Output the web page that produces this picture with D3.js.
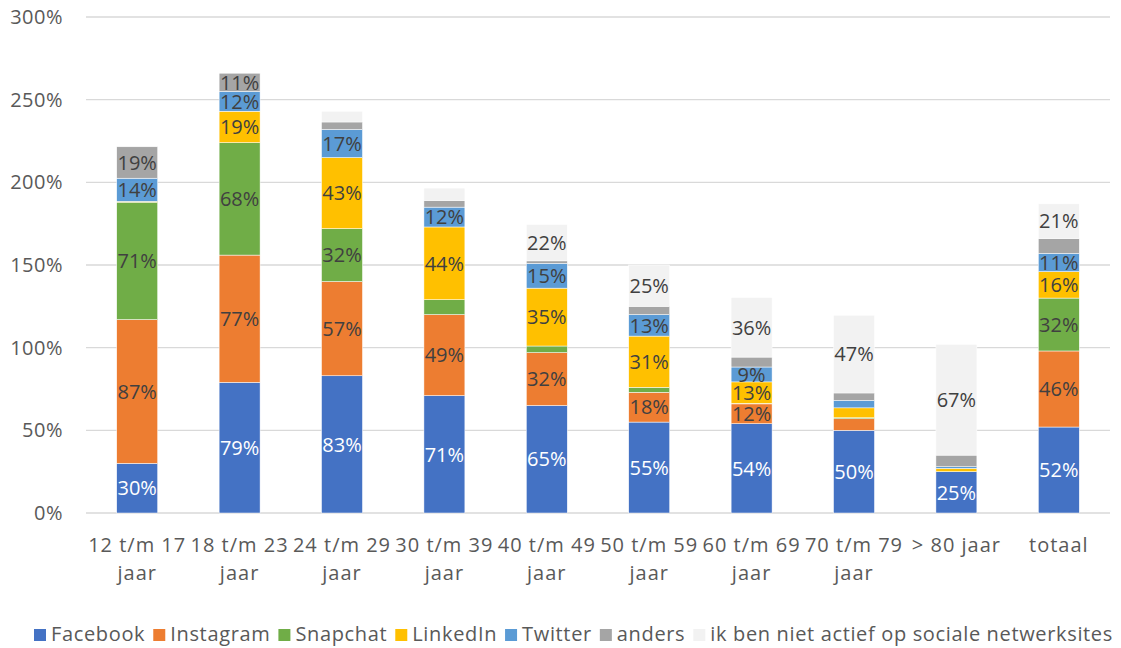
<!DOCTYPE html>
<html>
<head>
<meta charset="utf-8">
<script src="https://cdn.jsdelivr.net/npm/d3@7"></script>
<style>
  body { margin: 0; background: #fff; }
  text { font-family: "Open Sans", sans-serif; }
</style>
</head>
<body>
<script>
// categories and series, values in percent
const categories = ["12 t/m 17 jaar", "18 t/m 23 jaar", "24 t/m 29 jaar", "30 t/m 39 jaar", "40 t/m 49 jaar",
  "50 t/m 59 jaar", "60 t/m 69 jaar", "70 t/m 79 jaar", "> 80 jaar", "totaal"];
const seriesNames = ["Facebook", "Instagram", "Snapchat", "LinkedIn", "Twitter", "anders",
  "ik ben niet actief op sociale netwerksites"];
const facebook  = [30, 79, 83, 71, 65, 55, 54, 50, 25, 52];
const instagram = [87, 77, 57, 49, 32, 18, 12, 7, 0, 46];
const snapchat  = [71, 68, 32, 9, 4, 3, 0.3, 0.6, 0, 32];
const linkedin  = [0.5, 19, 43, 44, 35, 31, 13, 6, 2, 16];
const twitter   = [14, 12, 17, 12, 15, 13, 9, 4.5, 1, 11];
const anders    = [19, 11, 4.5, 4, 1.5, 5, 6, 4.5, 7, 9];
const nietActief = [0, 0, 6.5, 7.5, 22, 25, 36, 47, 67, 21];
// which segments carry a data label (1 = shown)
const labelShown = [
  [1, 1, 1, 1, 1, 1, 1, 1, 1, 1],
  [1, 1, 1, 1, 1, 1, 1, 0, 0, 1],
  [1, 1, 1, 0, 0, 0, 0, 0, 0, 1],
  [0, 1, 1, 1, 1, 1, 1, 0, 0, 1],
  [1, 1, 1, 1, 1, 1, 1, 0, 0, 1],
  [1, 1, 0, 0, 0, 0, 0, 0, 0, 0],
  [0, 0, 0, 0, 1, 1, 1, 1, 1, 1]
];
const yTicks = [0, 50, 100, 150, 200, 250, 300];

const colors = ["#4472C4", "#ED7D31", "#70AD47", "#FFC000", "#5B9BD5", "#A5A5A5", "#F2F2F2"];
const values = [facebook, instagram, snapchat, linkedin, twitter, anders, nietActief];

const width = 1121, height = 648;
const svg = d3.select("body").append("svg")
  .attr("width", width)
  .attr("height", height);

const x = d3.scaleBand()
  .domain(categories)
  .range([86, 1110])
  .paddingInner(0.6)
  .paddingOuter(0.3);

const y = d3.scaleLinear()
  .domain([0, 300])
  .range([513, 17]);

// gridlines
svg.append("g")
  .selectAll("line")
  .data(yTicks)
  .join("line")
    .attr("x1", 86)
    .attr("x2", 1110)
    .attr("y1", d => y(d))
    .attr("y2", d => y(d))
    .attr("stroke", "#D9D9D9")
    .attr("stroke-width", 1.3);

// y axis labels
svg.append("g")
  .selectAll("text")
  .data(yTicks)
  .join("text")
    .attr("x", 63)
    .attr("y", d => y(d))
    .attr("dy", "0.35em")
    .attr("text-anchor", "end")
    .attr("font-size", 20)
    .attr("letter-spacing", 0.5)
    .attr("fill", "#595959")
    .text(d => d + "%");

// stack the data
const rows = categories.map((c, i) => {
  const r = {cat: c};
  seriesNames.forEach((s, j) => r[s] = values[j][i]);
  return r;
});
const stacked = d3.stack().keys(seriesNames)(rows);

const layers = svg.append("g")
  .selectAll("g")
  .data(stacked)
  .join("g")
    .attr("fill", (d, i) => colors[i]);

layers.selectAll("rect")
  .data(d => d)
  .join("rect")
    .attr("x", d => x(d.data.cat))
    .attr("width", x.bandwidth())
    .attr("y", d => y(d[1]))
    .attr("height", d => y(d[0]) - y(d[1]))
    .attr("stroke", "#fff")
    .attr("stroke-width", 0.5);

// data labels
stacked.forEach((layer, si) => {
  svg.append("g")
    .selectAll("text")
    .data(layer.filter((d, i) => labelShown[si][i]))
    .join("text")
      .attr("x", d => x(d.data.cat) + x.bandwidth() / 2)
      .attr("y", d => y((d[0] + d[1]) / 2))
      .attr("dy", "0.36em")
      .attr("text-anchor", "middle")
      .attr("font-size", 20)
      .attr("fill", si === 0 ? "#fff" : "#404040")
      .text(d => Math.round(d[1] - d[0]) + "%");
});

// category labels, wrapped to the band step
const catG = svg.append("g");
categories.forEach(c => {
  const cx = x(c) + x.bandwidth() / 2;
  const t = catG.append("text")
    .attr("x", cx)
    .attr("y", 552)
    .attr("text-anchor", "middle")
    .attr("font-size", 20)
    .attr("letter-spacing", 1)
    .attr("fill", "#595959");
  let line = [];
  let tspan = t.append("tspan").attr("x", cx);
  c.split(" ").forEach(w => {
    line.push(w);
    tspan.text(line.join(" "));
    if (tspan.node().getComputedTextLength() > x.step() && line.length > 1) {
      line.pop();
      tspan.text(line.join(" "));
      line = [w];
      tspan = t.append("tspan")
        .attr("x", cx)
        .attr("dy", 28)
        .text(w);
    }
  });
});

// legend
const legend = svg.append("g");
let lx = 34;
seriesNames.forEach((s, i) => {
  legend.append("rect")
    .attr("x", lx)
    .attr("y", 629)
    .attr("width", 12)
    .attr("height", 12)
    .attr("fill", colors[i]);
  const t = legend.append("text")
    .attr("x", lx + 17)
    .attr("y", 634)
    .attr("dy", "0.35em")
    .attr("font-size", 20)
    .attr("letter-spacing", 0.65)
    .attr("fill", "#595959")
    .text(s);
  lx += 17 + t.node().getComputedTextLength() + 8;
});
</script>
</body>
</html>
